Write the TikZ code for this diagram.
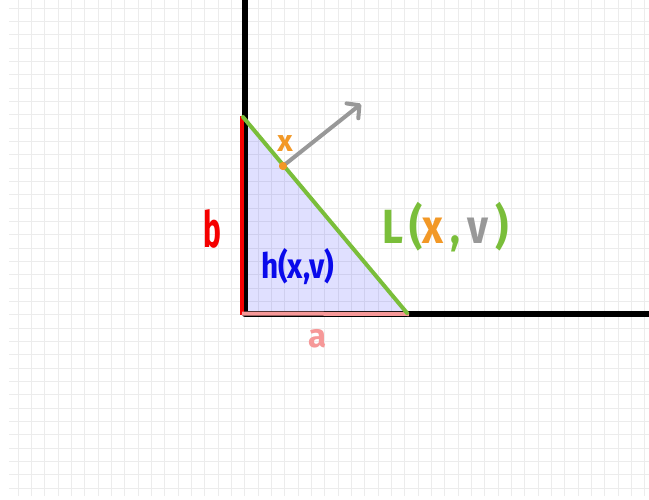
\documentclass[tikz,border=0pt]{standalone}
\usepackage{fontspec}
\setmainfont{Fira Sans}
\usepackage{graphicx}
\usetikzlibrary{arrows.meta}
\definecolor{gridc}{RGB}{236,236,236}
\definecolor{redc}{RGB}{245,0,0}
\definecolor{pinkc}{RGB}{246,152,152}
\definecolor{greenc}{RGB}{122,190,58}
\definecolor{orangec}{RGB}{242,152,38}
\definecolor{grayc}{RGB}{152,152,152}
\definecolor{bluec}{RGB}{10,10,235}
\tikzset{
  gridline/.style={draw=gridc, line width=0.9pt},
  axisline/.style={draw=black, line width=6pt, line join=round},
  redline/.style={draw=redc, line width=4pt},
  pinkline/.style={draw=pinkc, line width=4pt},
  greenline/.style={draw=greenc, line width=4pt, line cap=round},
  grayarrow/.style={draw=grayc, line width=4pt, line cap=round,
    -{Straight Barb[length=9pt,width=19pt,round]}},
  lbl/.style={inner sep=0pt, outer sep=0pt}
}
\begin{document}
\begin{tikzpicture}[x=1pt,y=-1pt]
\useasboundingbox (0,0) rectangle (649,499);
\fill[white] (0,0) rectangle (649,499);
% grid
\foreach \k in {0,...,47} {
  \draw[gridline] ({18+13.333*\k},0) -- ({18+13.333*\k},496);
}
\foreach \k in {0,...,36} {
  \draw[gridline] (9,{8+13.333*\k}) -- (649,{8+13.333*\k});
}
% key points
\coordinate (T) at (244.5,0);
\coordinate (R) at (649,314);
\coordinate (A) at (242,116);
\coordinate (O) at (242,315);
\coordinate (Bp) at (409,314);
\coordinate (G1) at (243,117);
\coordinate (G2) at (407,313);
\coordinate (tip) at (361,104);
% triangle fill
\fill[blue, fill opacity=0.12] (244,117) -- (244,312) -- (407,312) -- cycle;
% axes
\draw[axisline] (T) |- (R);
% sides
\draw[redline] (A) -- (O);
\draw[pinkline] (242,313.5) -- (Bp);
\draw[greenline] (G1) -- (G2);
% point and arrow
\node[circle, fill=orangec, inner sep=0pt, minimum size=8pt] (X) at (283,166) {};
\draw[grayarrow] (X.center) -- (tip);
\node[circle, fill=orangec, inner sep=0pt, minimum size=8pt] (Xdot) at (283,166) {};
% labels
\node[lbl, anchor=base, text=orangec, font=\fontsize{30}{32}\selectfont\bfseries] (xl) at (285,151) {x};
\node[lbl, anchor=base, text=redc, font=\fontsize{50}{52}\selectfont\bfseries] (bl) at (212,247) {\scalebox{0.6}[1]{b}};
\node[lbl, anchor=base west, text=bluec, font=\fontsize{35}{37}\selectfont\bfseries] (hl) at (261,278) {\scalebox{0.85}[1]{h(x,v)}};
\node[lbl, anchor=base west, text=greenc, font=\fontsize{48}{50}\selectfont\bfseries] (Ll) at (382,243) {\scalebox{0.85}[1]{L\,(\textcolor{orangec}{x}\,,\,\textcolor{grayc}{v}\,)}};
\node[lbl, anchor=base, text=pinkc, font=\fontsize{33}{35}\selectfont\bfseries] (al) at (318,347) {a};
\end{tikzpicture}
\end{document}
